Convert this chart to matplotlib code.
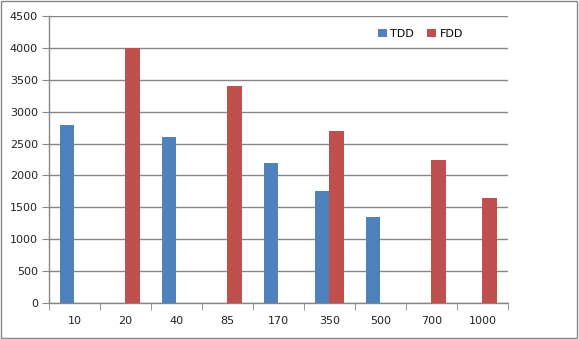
import matplotlib
matplotlib.use("Agg")
import matplotlib.pyplot as plt
import numpy as np
from matplotlib.patches import Rectangle

categories = ["10", "20", "40", "85", "170", "350", "500", "700", "1000"]
tdd = [2790, 0, 2600, 0, 2200, 1750, 1350, 0, 0]
fdd = [0, 4000, 0, 3400, 0, 2700, 0, 2240, 1650]
yticks = [0, 500, 1000, 1500, 2000, 2500, 3000, 3500, 4000, 4500]

fig = plt.figure(figsize=(5.79, 3.39), dpi=100)
fig.patches.append(Rectangle((0.002, 0.003), 0.995, 0.993, transform=fig.transFigure,
                             fill=False, edgecolor="#868686", linewidth=1.0))
ax = fig.add_axes([0.0846, 0.106, 0.7925, 0.847])

x = np.arange(len(categories))
w = 0.29
ax.bar(x - w / 2, tdd, w, color="#4F81BD", label="TDD", zorder=3)
ax.bar(x + w / 2, fdd, w, color="#C0504D", label="FDD", zorder=3)

ax.set_xlim(-0.5, len(categories) - 0.5)
ax.set_ylim(0, 4500)
ax.set_yticks(yticks)
ax.yaxis.grid(True, color="#868686", linewidth=1.0, zorder=0)
ax.set_axisbelow(True)

ax.set_xticks(x)
ax.set_xticklabels(categories)
ax.set_xticks(np.arange(-0.5, len(categories), 1.0), minor=True)
ax.tick_params(axis="x", which="major", length=0, pad=9, labelsize=8, colors="#000000")
ax.tick_params(axis="x", which="minor", length=5, color="#868686", direction="out")
ax.tick_params(axis="y", length=5, color="#868686", labelsize=8, pad=3)
for lbl in ax.get_xticklabels() + ax.get_yticklabels():
    lbl.set_color("#222222")

for s in ["top", "right"]:
    ax.spines[s].set_visible(False)
for s in ["left", "bottom"]:
    ax.spines[s].set_color("#868686")
    ax.spines[s].set_linewidth(1.0)

leg = ax.legend(loc="upper left", bbox_to_anchor=(0.695, 0.99), ncol=2, frameon=False,
                fontsize=8, handlelength=0.8, handleheight=0.8, handletextpad=0.3,
                columnspacing=1.2)

fig.savefig("out.png", dpi=100)
